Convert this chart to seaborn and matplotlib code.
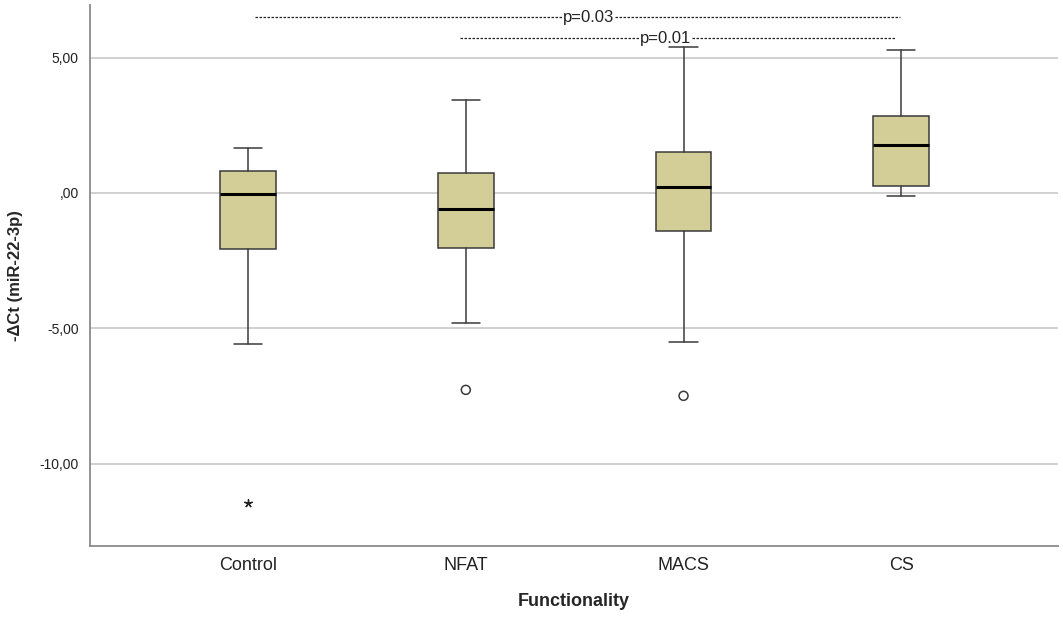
import matplotlib
matplotlib.use("Agg")
import matplotlib.pyplot as plt
import seaborn as sns
import pandas as pd

# Summary values (SPSS style boxplot)
groups = ["Control", "NFAT", "MACS", "CS"]
whisker_low = [-5.57, -4.80, -5.50, -0.11]
q1 = [-2.07, -2.03, -1.40, 0.26]
median = [-0.04, -0.59, 0.22, 1.77]
q3 = [0.81, 0.74, 1.51, 2.84]
whisker_high = [1.66, 3.43, 5.39, 5.28]

# outliers: (group, value, kind)
outlier_group = ["Control", "NFAT", "MACS"]
outlier_value = [-11.44, -7.27, -7.49]
outlier_kind = ["extreme", "outlier", "outlier"]

yticks = [5, 0, -5, -10]
ytick_labels = ["5,00", ",00", "-5,00", "-10,00"]

# significance brackets: (from group, to group, label)
sig_pairs = [("Control", "CS", "p=0.03"), ("NFAT", "CS", "p=0.01")]
sig_levels = [6.49, 5.72]

sns.set_style("white")
plt.rcParams["font.family"] = ["Liberation Sans", "DejaVu Sans"]

fig = plt.figure(figsize=(10.63, 6.26), dpi=100)
ax = fig.add_axes([0.0847, 0.128, 0.9106, 0.864])

stats = []
for i, g in enumerate(groups):
    stats.append({"label": g, "whislo": whisker_low[i], "q1": q1[i],
                  "med": median[i], "q3": q3[i], "whishi": whisker_high[i],
                  "fliers": []})

ax.bxp(stats, positions=range(len(groups)), widths=0.255, patch_artist=True,
       showfliers=False,
       boxprops=dict(facecolor="#d3cd97", edgecolor="#3a3a3a", linewidth=1.1),
       medianprops=dict(color="black", linewidth=2.2),
       whiskerprops=dict(color="#3a3a3a", linewidth=1.1),
       capprops=dict(color="#3a3a3a", linewidth=1.1),
       capwidths=0.13, zorder=3)

out = pd.DataFrame({"group": outlier_group, "value": outlier_value, "kind": outlier_kind})
pos = {g: i for i, g in enumerate(groups)}
out["x"] = out["group"].map(pos)
ol = out[out["kind"] == "outlier"]
ex = out[out["kind"] == "extreme"]
ax.scatter(ol["x"], ol["value"], s=42, facecolors="none", edgecolors="#3a3a3a",
           linewidths=1.1, zorder=4)
ax.scatter(ex["x"], ex["value"], s=30, marker=(5, 2), color="#222222",
           linewidths=1.0, zorder=4)

# significance annotations drawn as dashed lines with a label
line_offsets = [(0.03, -0.005), (-0.026, -0.03)]
label_shift = [0.05, -0.055]
for (g1, g2, lab), yv, (o1, o2), sh in zip(sig_pairs, sig_levels, line_offsets, label_shift):
    x1 = pos[g1] + o1
    x2 = pos[g2] + o2
    ax.plot([x1, x2], [yv, yv], linestyle=(0, (2.0, 1.2)), color="#222222",
            linewidth=0.9, zorder=5)
    ax.text((x1 + x2) / 2 + sh, yv, lab,
            ha="center", va="center", fontsize=12, color="#222222",
            bbox=dict(facecolor="white", edgecolor="none", pad=0.5), zorder=6)

ax.set_xlim(-0.726, 3.72)
ax.set_ylim(-13.03, 6.94)
ax.set_yticks(yticks)
ax.set_yticklabels(ytick_labels, fontsize=10, color="#222222")
ax.set_xticks(range(len(groups)))
ax.set_xticklabels(groups, fontsize=13, color="#222222")
ax.tick_params(axis="both", length=0, pad=8)
ax.yaxis.grid(True, color="#c4c4c4", linewidth=1.1)
ax.set_axisbelow(True)

for side in ["top", "right"]:
    ax.spines[side].set_visible(False)
for side in ["left", "bottom"]:
    ax.spines[side].set_color("#8a8a8a")
    ax.spines[side].set_linewidth(1.3)

ax.set_xlabel("Functionality", fontsize=13, fontweight="bold", labelpad=14)
ax.set_ylabel("-ΔCt (miR-22-3p)", fontsize=12, fontweight="bold", labelpad=12)

fig.savefig("out.png", dpi=100)
